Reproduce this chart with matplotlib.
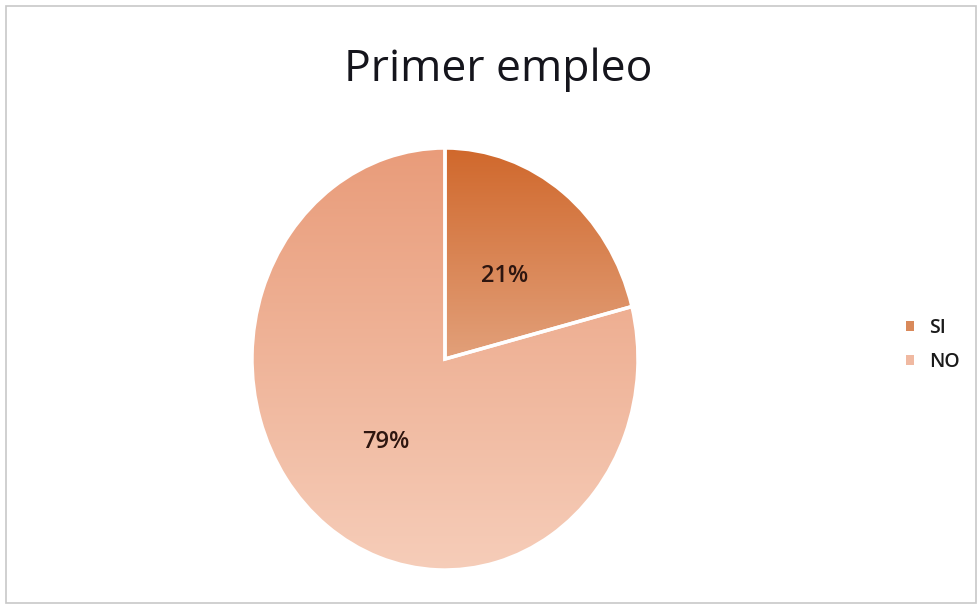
import numpy as np
import matplotlib.pyplot as plt
from matplotlib.colors import LinearSegmentedColormap
from matplotlib.patches import Rectangle, Patch

labels = ['SI', 'NO']
values = [21, 79]
title = 'Primer empleo'
grad_top = ['#d0682c', '#e99c7a']
grad_bottom = ['#e2a07a', '#f6cdb9']
legend_colors = ['#d9895a', '#f0b9a1']

plt.rcParams['font.family'] = ['Open Sans', 'DejaVu Sans']

fig = plt.figure(figsize=(9.77, 6.08), dpi=100)
W, H = 977, 608
# pie axes stretched a little taller than wide, like the original
ax = fig.add_axes([252 / W, (H - 570) / H, 386 / W, 422 / H])

wedges, texts, autotexts = ax.pie(values, startangle=90, counterclock=False,
                                  autopct='%1.0f%%', pctdistance=0.5,
                                  wedgeprops=dict(edgecolor='white', linewidth=2.5))
ax.set_aspect('auto')

# gradient fill per slice, over each slice's own vertical extent
for w, top, bot in zip(wedges, grad_top, grad_bottom):
    verts = w.get_path().transformed(w.get_patch_transform()).vertices
    y0, y1 = verts[:, 1].min(), verts[:, 1].max()
    cmap = LinearSegmentedColormap.from_list('g', [bot, top])
    grad = np.linspace(0, 1, 256).reshape(-1, 1)
    im = ax.imshow(grad, cmap=cmap, extent=(-1, 1, y0, y1), origin='lower',
                   aspect='auto', zorder=w.get_zorder() - 0.1)
    im.set_clip_path(w)
    w.set_facecolor('none')

ax.set_xlim(-1, 1)
ax.set_ylim(-1, 1)

for t in autotexts:
    t.set_fontsize(17)
    t.set_fontweight('semibold')
    t.set_color('#2e1610')

fig.text(498 / W, 1 - 70 / H, title, fontsize=32, ha='center', va='center', color='#15151c')

handles = [Patch(facecolor=c, edgecolor='none') for c in legend_colors]
fig.legend(handles, labels, loc='center left', bbox_to_anchor=(906 / W, 1 - 345 / H),
           frameon=False, prop=dict(size=14, weight='semibold'), labelcolor='#1a1a1a',
           handlelength=0.4, handleheight=0.4, handletextpad=0.8, labelspacing=0.75,
           borderpad=0, borderaxespad=0)

fig.patches.append(Rectangle((6 / W, 5 / H), 970 / W, 597 / H, transform=fig.transFigure,
                             fill=False, edgecolor='#c8c8c8', linewidth=1.2))

fig.savefig('out.png', dpi=100)
